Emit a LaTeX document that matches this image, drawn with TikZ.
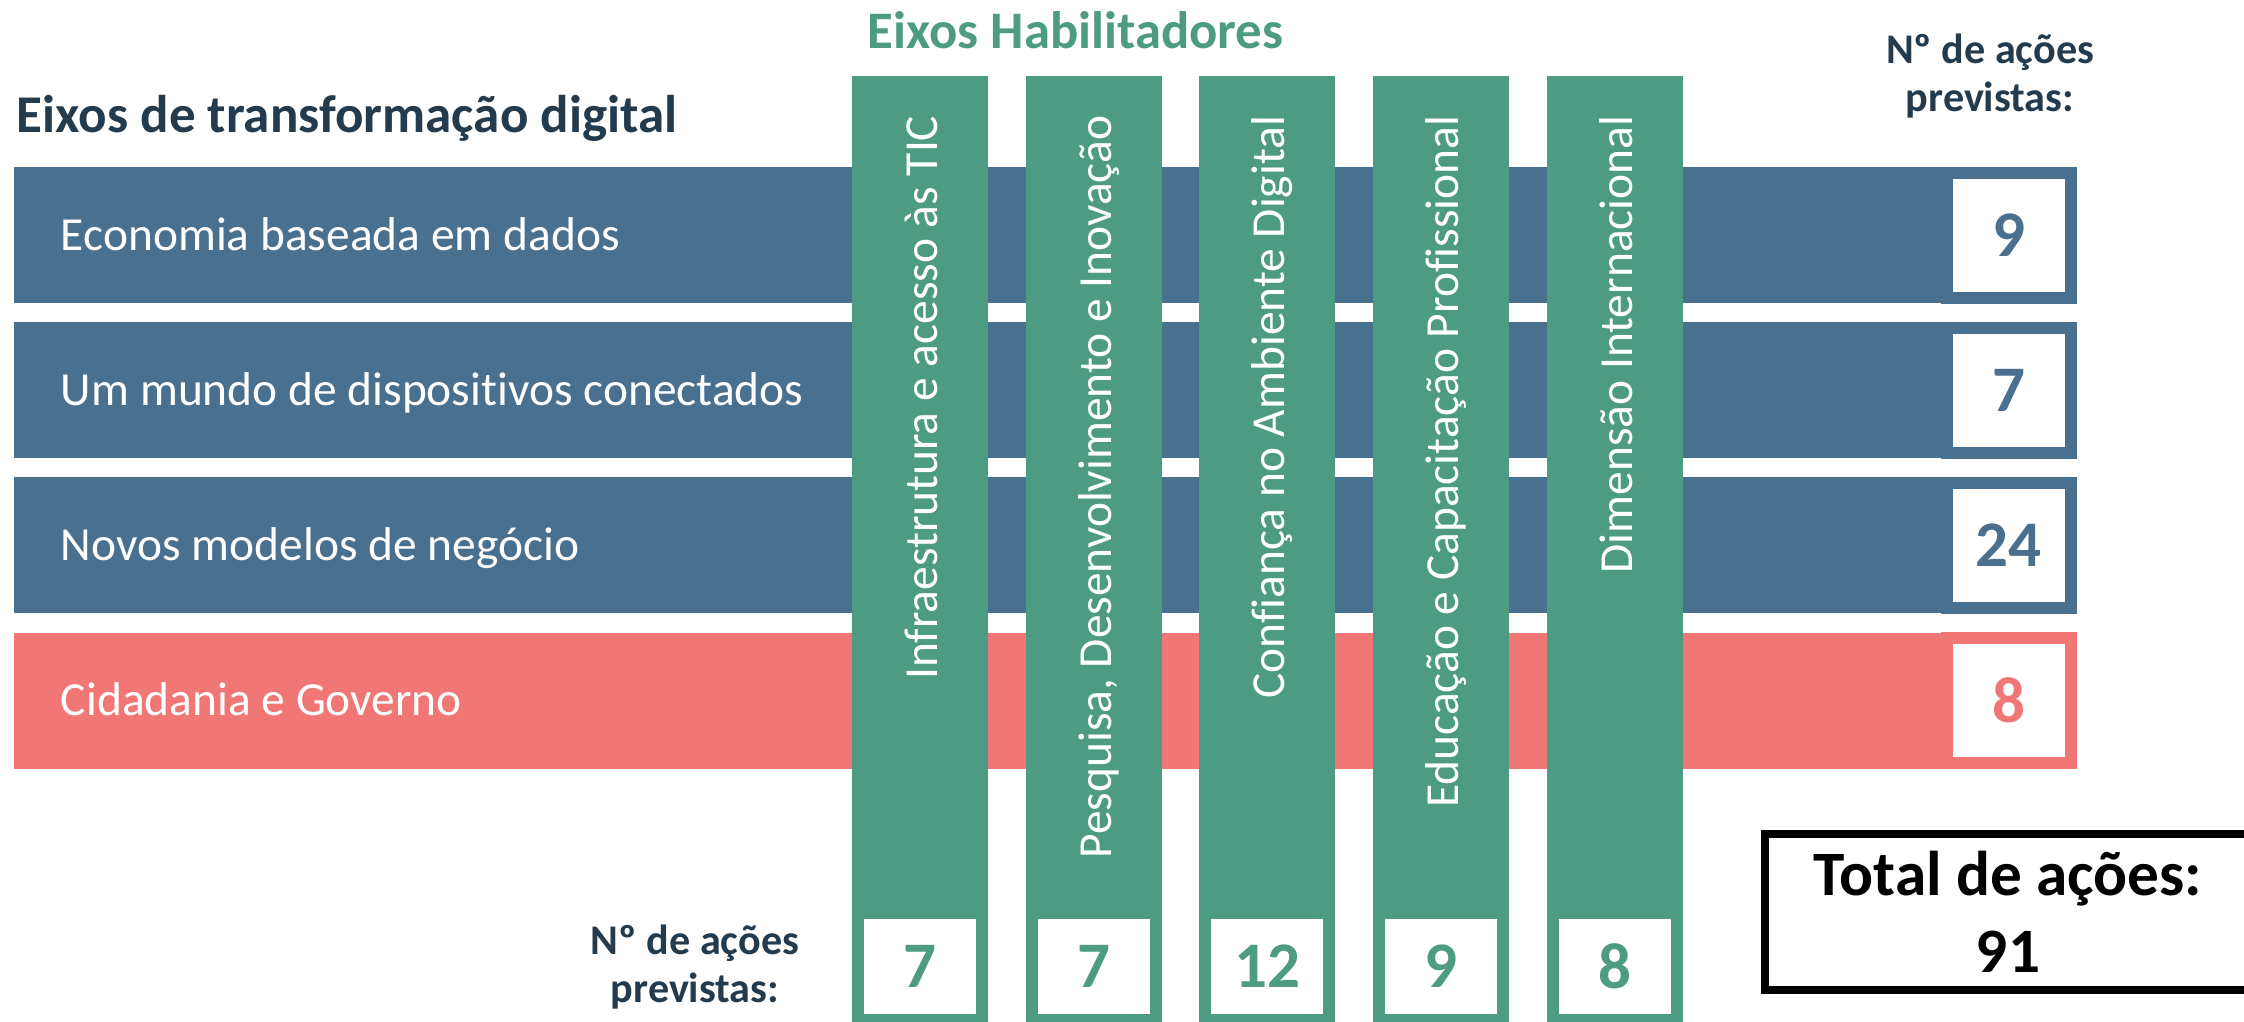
\documentclass[tikz,border=0pt]{standalone}
\usepackage{fontspec}
\setmainfont{Carlito}[Ligatures=NoCommon]
\usepackage{tikz}
\usetikzlibrary{positioning}
\definecolor{azul}{HTML}{4A7090}
\definecolor{verde}{HTML}{4C9B82}
\definecolor{rosa}{HTML}{F07775}
\definecolor{marinho}{HTML}{243A4D}

\begin{document}
\begin{tikzpicture}[eixo/.style={shape=rectangle,fill=azul,inner sep=0pt,minimum width=20.62cm,minimum height=1.36cm},
		habil/.style={shape=rectangle,fill=verde,inner sep=0pt,minimum width=1.36cm,minimum height=9.7cm,anchor=north},
		caixa/.style={shape=rectangle,fill=white,line width=1.2mm,inner sep=0pt,minimum width=1.24cm,minimum height=1.25cm,
							font=\bfseries\fontsize{18.5}{22}\selectfont},
		rotulo/.style={anchor=base west,inner sep=0pt,text=white,font=\fontsize{13.5}{16}\selectfont},
		vertical/.style={rotate=90,anchor=base east,inner sep=0pt,text=white,font=\fontsize{13.5}{16}\selectfont},
		cabec/.style={align=center,inner sep=0pt,text=marinho,font=\bfseries\fontsize{12}{13.4}\selectfont}]
		\useasboundingbox (0,0) rectangle (22.44,10.21);

		\node[anchor=base west,inner sep=0pt,text=marinho,font=\bfseries\fontsize{15.1}{18}\selectfont] (titulo) at (0.16,8.88) {Eixos de transformação digital};
		\node[anchor=base,inner sep=0pt,text=verde,font=\bfseries\fontsize{15}{18}\selectfont] (habtit) at (10.755,9.72) {Eixos Habilitadores};
		\node[cabec] (prevdir) at (19.90,9.45) {Nº de ações\\previstas:};

		\node[eixo] (eco)  at (10.45,7.86) {};
		\node[eixo] (disp) at (10.45,6.31) {};
		\node[eixo] (neg)  at (10.45,4.76) {};
		\node[eixo,fill=rosa] (cid) at (10.45,3.205) {};
		\node[rotulo] at ([xshift=4.7mm,yshift=-1.5mm]eco.west)  {Economia baseada em dados};
		\node[rotulo] at ([xshift=4.7mm,yshift=-1.5mm]disp.west) {Um mundo de dispositivos conectados};
		\node[rotulo] at ([xshift=4.7mm,yshift=-1.5mm]neg.west)  {Novos modelos de negócio};
		\node[rotulo] at ([xshift=4.7mm,yshift=-1.5mm]cid.west)  {Cidadania e Governo};
		\node[caixa,draw=azul,text=azul,anchor=east] (neco)  at (eco.east)  {9};
		\node[caixa,draw=azul,text=azul,anchor=east] (ndisp) at (disp.east) {7};
		\node[caixa,draw=azul,text=azul,anchor=east] (nneg)  at (neg.east)  {24};
		\node[caixa,draw=rosa,text=rosa,anchor=east] (ncid)  at (cid.east)  {8};

		\node[habil] (infra) at (9.20,9.46)  {};
		\node[habil] (pesq)  at (10.94,9.46) {};
		\node[habil] (conf)  at (12.67,9.46) {};
		\node[habil] (educ)  at (14.41,9.46) {};
		\node[habil] (dim)   at (16.15,9.46) {};
		\node[vertical] at ([xshift=1.7mm,yshift=-4mm]infra.north) {Infraestrutura e acesso às TIC};
		\node[vertical] at ([xshift=1.7mm,yshift=-4mm]pesq.north)  {Pesquisa, Desenvolvimento e Inovação};
		\node[vertical] at ([xshift=1.7mm,yshift=-4mm]conf.north)  {Confiança no Ambiente Digital};
		\node[vertical] at ([xshift=1.7mm,yshift=-4mm]educ.north)  {Educação e Capacitação Profissional};
		\node[vertical] at ([xshift=1.7mm,yshift=-4mm]dim.north)   {Dimensão Internacional};
		\node[caixa,draw=verde,text=verde,minimum height=1.07cm] (ninfra) at (9.20,0.545)  {7};
		\node[caixa,draw=verde,text=verde,minimum height=1.07cm] (npesq)  at (10.94,0.545) {7};
		\node[caixa,draw=verde,text=verde,minimum height=1.07cm] (nconf)  at (12.67,0.545) {12};
		\node[caixa,draw=verde,text=verde,minimum height=1.07cm] (neduc)  at (14.41,0.545) {9};
		\node[caixa,draw=verde,text=verde,minimum height=1.07cm] (ndim)   at (16.15,0.545) {8};
		\node[cabec] (prevesq) at (6.95,0.54) {Nº de ações\\previstas:};

		\node[draw=black,line width=0.8mm,minimum width=4.86cm,minimum height=1.56cm,inner sep=0pt,align=center,
			font=\bfseries\fontsize{18}{21.9}\selectfont] (total) at (20.08,1.09) {Total de ações:\\91};

	\end{tikzpicture}
\end{document}
